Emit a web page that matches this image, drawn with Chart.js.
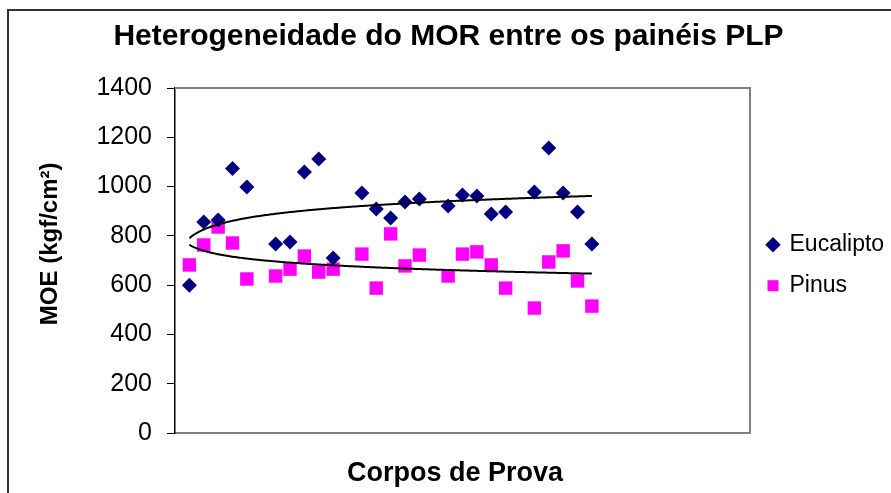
<!DOCTYPE html>
<html>
<head>
<meta charset="utf-8">
<script src="https://cdn.jsdelivr.net/npm/chart.js@4/dist/chart.umd.min.js"></script>
<style>
  html, body { margin: 0; padding: 0; background: #fff; }
  #wrap { position: relative; width: 891px; height: 493px; }
  #frame { position: absolute; left: 7px; top: 9px; right: -4px; bottom: -4px; border-left: 2px solid #333; border-top: 2px solid #333; pointer-events: none; }
  canvas { display: block; }
</style>
</head>
<body>
<div id="wrap">
  <canvas id="c" width="891" height="493"></canvas>
  <div id="frame"></div>
</div>
<script>
// --- data ---
const corpos = [1, 2, 3, 4, 5, 7, 8, 9, 10, 11, 13, 14, 15, 16, 17, 19, 20, 21, 22, 23, 25, 26, 27, 28, 29];
const eucalipto = [600, 856, 864, 1073, 998, 767, 775, 1059, 1112, 710, 974, 909, 872, 937, 950, 921, 966, 962, 889, 897, 978, 1157, 974, 897, 767];
const pinus = [682, 763, 836, 771, 625, 637, 665, 718, 653, 665, 726, 588, 808, 678, 722, 637, 726, 735, 682, 588, 507, 694, 739, 617, 515];
const yTicks = [0, 200, 400, 600, 800, 1000, 1200, 1400];

const FONT = "'Liberation Sans', Arial, Helvetica, sans-serif";

function pts(xs, ys) { return xs.map((x, i) => ({ x: x, y: ys[i] })); }

// logarithmic trend line (least squares on ln x), like the spreadsheet trendline
function logTrend(xs, ys) {
  const n = xs.length;
  const lx = xs.map(Math.log);
  const mx = lx.reduce((a, b) => a + b, 0) / n;
  const my = ys.reduce((a, b) => a + b, 0) / n;
  let sxy = 0, sxx = 0;
  for (let i = 0; i < n; i++) { sxy += (lx[i] - mx) * (ys[i] - my); sxx += (lx[i] - mx) ** 2; }
  const a = sxy / sxx, b = my - a * mx;
  const out = [];
  const x0 = Math.min(...xs), x1 = Math.max(...xs);
  for (let x = x0; x <= x1 + 1e-9; x += 0.1) out.push({ x: x, y: a * Math.log(x) + b });
  return out;
}

const plotFrame = {
  id: 'plotFrame',
  beforeDatasetsDraw(chart) {
    const a = chart.chartArea, ctx = chart.ctx;
    ctx.save();
    ctx.strokeStyle = '#808080';
    ctx.lineWidth = 2;
    ctx.beginPath();
    ctx.moveTo(a.left, a.top);
    ctx.lineTo(a.right, a.top);
    ctx.lineTo(a.right, a.bottom);
    ctx.stroke();
    ctx.restore();
  }
};

new Chart(document.getElementById('c'), {
  type: 'scatter',
  data: {
    datasets: [
      { label: 'Eucalipto', data: pts(corpos, eucalipto), pointStyle: 'rectRot', pointRadius: 7.5, pointHoverRadius: 7.5,
        backgroundColor: '#000080', borderColor: '#000080', borderWidth: 0, order: 1 },
      { label: 'Pinus', data: pts(corpos, pinus), pointStyle: 'rect', pointRadius: 9.5, pointHoverRadius: 9.5,
        backgroundColor: '#FF00FF', borderColor: '#FF00FF', borderWidth: 0, order: 2 },
      { label: 'trendE', data: logTrend(corpos, eucalipto), showLine: true, pointRadius: 0, borderColor: '#000', borderWidth: 2, fill: false, order: 0 },
      { label: 'trendP', data: logTrend(corpos, pinus), showLine: true, pointRadius: 0, borderColor: '#000', borderWidth: 2, fill: false, order: 0 }
    ]
  },
  options: {
    responsive: false,
    animation: false,
    layout: { padding: { left: 10, right: 4, top: 19, bottom: 0 } },
    plugins: {
      tooltip: { enabled: false },
      title: {
        display: true,
        text: 'Heterogeneidade do MOR entre os painéis PLP',
        color: '#000',
        font: { family: FONT, size: 30, weight: 'bold' },
        padding: { top: 0, bottom: 33 }
      },
      legend: {
        position: 'right',
        maxWidth: 137,
        title: { display: true, text: ' ', font: { family: FONT, size: 12 }, padding: 2 },
        labels: {
          color: '#000',
          font: { family: FONT, size: 23 },
          usePointStyle: true,
          boxWidth: 10,
          boxHeight: 11,
          padding: 18,
          filter: item => item.text === 'Eucalipto' || item.text === 'Pinus'
        }
      }
    },
    scales: {
      x: {
        type: 'linear', min: 0, max: 40,
        ticks: { display: false },
        grid: { display: false, drawTicks: false },
        border: { display: true, color: '#808080', width: 2 },
        title: { display: true, text: 'Corpos de Prova  ', color: '#000', font: { family: FONT, size: 27, weight: 'bold' }, padding: { top: 0, bottom: 3 } },
        afterFit(s) { s.height = 60; }
      },
      y: {
        type: 'linear', min: 0, max: 1400,
        afterBuildTicks(s) { s.ticks = yTicks.map(v => ({ value: v })); },
        ticks: { color: '#000', font: { family: FONT, size: 25 }, padding: 15, callback: v => String(v) },
        grid: { drawOnChartArea: false, drawTicks: true, tickLength: 8, color: '#000' },
        border: { display: true, color: '#000', width: 1.5 },
        title: { display: true, text: '     MOE (kgf/cm²)', color: '#000', font: { family: FONT, size: 24, weight: 'bold' }, padding: { top: 26, bottom: 0 } },
        afterFit(s) { s.width = 165; }
      }
    }
  },
  plugins: [plotFrame]
});
</script>
</body>
</html>
